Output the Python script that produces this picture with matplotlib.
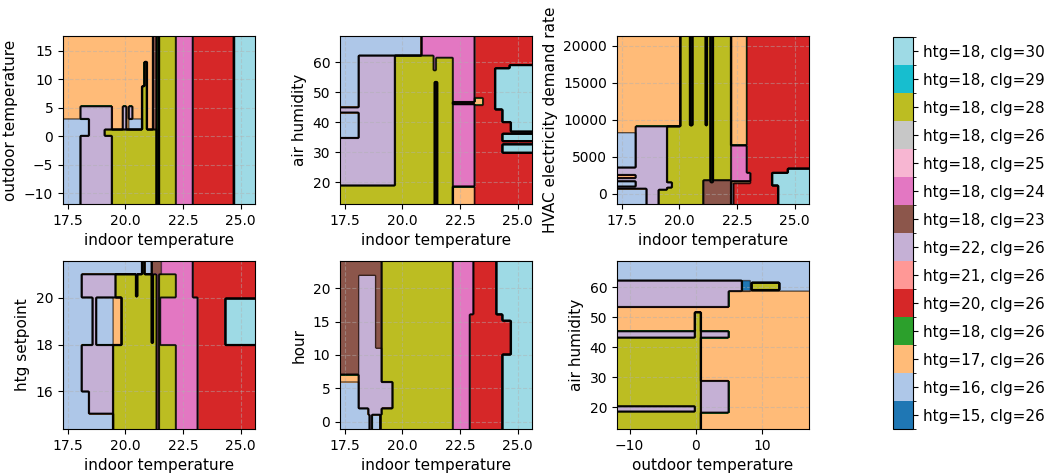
import numpy as np
import matplotlib as mpl
import matplotlib.pyplot as plt
from matplotlib.colors import BoundaryNorm

class_labels = ['htg=15, clg=26', 'htg=16, clg=26', 'htg=17, clg=26', 'htg=18, clg=26',
                'htg=20, clg=26', 'htg=21, clg=26', 'htg=22, clg=26', 'htg=18, clg=23',
                'htg=18, clg=24', 'htg=18, clg=25', 'htg=18, clg=26', 'htg=18, clg=28',
                'htg=18, clg=29', 'htg=18, clg=30']

# (class, x0, x1, y0, y1) -- later boxes are painted over earlier ones
regions_1 = [
    (2, 17, 26, -20, 20),
    (1, 17, 18.08, -20, 3.0),
    (6, 18.08, 19.41, -20, 5.2),
    (1, 18.08, 18.44, 0.05, 3.0),
    (11, 19.41, 21.38, -20, 1.1),
    (11, 19.12, 19.41, 0.05, 1.1),
    (6, 19.87, 20.03, 1.1, 5.2),
    (1, 20.13, 20.71, 1.1, 3.0),
    (6, 20.13, 20.30, 3.0, 5.2),
    (11, 20.71, 20.85, 1.1, 8.7),
    (11, 20.85, 20.95, 1.1, 13.1),
    (7, 21.22, 21.38, 1.1, 20),
    (2, 21.38, 21.47, -20, 20),
    (11, 21.47, 22.2, -20, 20),
    (8, 22.2, 22.95, -20, 20),
    (4, 22.95, 24.68, -20, 20),
    (13, 24.68, 26, -20, 20),
]

regions_2 = [
    (4, 17, 26, 0, 80),
    (1, 17, 20.84, 62.3, 80),
    (1, 17, 18.11, 44.9, 80),
    (6, 17, 18.11, 18.9, 44.9),
    (1, 17, 18.11, 34.8, 43.2),
    (6, 18.11, 19.7, 18.9, 62.3),
    (11, 17, 19.7, 0, 18.9),
    (11, 19.7, 21.4, 0, 62.2),
    (11, 21.4, 22.2, 0, 61.7),
    (8, 20.84, 23.15, 62.2, 80),
    (8, 21.4, 23.15, 61.7, 62.2),
    (8, 22.2, 23.15, 18.5, 61.7),
    (8, 21.33, 21.46, 57.2, 62.2),
    (2, 22.2, 23.15, 0, 18.5),
    (2, 22.2, 23.5, 46.1, 46.9),
    (2, 23.15, 23.5, 45.8, 48.3),
    (2, 21.41, 21.49, 0, 53.3),
    (13, 24.02, 26, 44.3, 58.0),
    (13, 24.35, 26, 40, 44.3),
    (13, 24.7, 26, 37.0, 40),
    (13, 24.65, 26, 58.0, 59.1),
    (13, 24.35, 26, 33.7, 36.2),
    (13, 24.35, 26, 29.8, 32.6),
]

regions_3 = [
    (4, 17, 26, -5000, 25000),
    (11, 19.1, 22.22, -5000, 25000),
    (2, 17, 20.05, 9100, 25000),
    (2, 17, 18.1, 8300, 9100),
    (1, 17, 18.1, 3500, 8300),
    (6, 18.1, 19.45, 600, 9100),
    (6, 17, 18.1, 600, 3500),
    (6, 19.45, 19.7, 800, 1600),
    (6, 18.6, 19.1, -5000, 600),
    (1, 17, 18.6, -5000, 750),
    (2, 17, 18.1, 2160, 2560),
    (1, 17, 18.1, 990, 1660),
    (7, 21.06, 22.22, -5000, 1900),
    (2, 20.45, 20.55, 9300, 25000),
    (2, 21.12, 21.2, 9300, 25000),
    (2, 21.38, 21.46, 1500, 25000),
    (2, 22.22, 22.95, 6600, 25000),
    (8, 22.22, 22.95, 2800, 6600),
    (8, 22.22, 23.1, 1700, 2800),
    (2, 22.22, 23.1, 1400, 1700),
    (1, 22.22, 22.35, -5000, 1400),
    (13, 24.03, 26, 1200, 2800),
    (13, 24.27, 26, -5000, 2800),
    (13, 24.7, 26, 2800, 3450),
]

regions_4 = [
    (4, 17, 26, 10, 25),
    (1, 17, 19.45, 10, 25),
    (11, 19.45, 22.19, 10, 21.0),
    (6, 18.1, 19.57, 20.0, 21.0),
    (6, 18.6, 18.75, 18.0, 20.0),
    (1, 18.75, 19.45, 18.0, 20.0),
    (2, 19.45, 19.83, 18.0, 20.0),
    (6, 18.1, 19.45, 16.0, 18.0),
    (6, 18.43, 19.45, 15.07, 16.0),
    (8, 21.5, 22.19, 18.0, 20.0),
    (8, 22.19, 22.94, 10, 25),
    (8, 22.94, 23.16, 10, 20.0),
    (8, 21.57, 22.19, 21.0, 25),
    (7, 21.13, 21.57, 21.0, 25),
    (1, 17, 21.13, 21.0, 25),
    (11, 20.75, 20.83, 21.0, 25),
    (2, 20.44, 20.52, 20.05, 21.0),
    (2, 21.12, 21.19, 18.05, 21.0),
    (7, 21.38, 21.44, 10, 21.0),
    (13, 24.32, 26, 18.0, 19.96),
]

regions_5 = [
    (11, 17, 26, -5, 30),
    (7, 17, 19.11, 7.0, 30),
    (1, 17, 18.1, -5, 6.0),
    (2, 17, 18.43, 6.0, 7.0),
    (6, 18.1, 18.82, 2.0, 21.86),
    (6, 18.82, 19.11, 6.0, 10.95),
    (6, 18.1, 19.6, 2.0, 6.0),
    (1, 18.1, 18.53, -5, 2.0),
    (6, 18.53, 19.1, 1.1, 2.0),
    (1, 18.53, 18.6, -5, 1.1),
    (6, 18.6, 18.7, -5, 1.1),
    (1, 18.7, 19.03, -5, 1.1),
    (13, 24.07, 26, -5, 30),
    (8, 22.19, 23.09, -5, 30),
    (4, 23.09, 24.07, 16.1, 30),
    (4, 22.94, 24.32, -5, 16.1),
    (4, 24.32, 24.7, 10.05, 15.07),
]

regions_6 = [
    (2, -20, 30, 0, 80),
    (1, -20, 30, 62.4, 80),
    (1, 6.9, 30, 58.9, 80),
    (6, -20, 4.96, 53.3, 62.4),
    (6, 4.96, 6.9, 58.9, 62.4),
    (0, 6.9, 8.24, 58.9, 62.2),
    (11, 8.49, 12.67, 59.1, 61.7),
    (6, -20, 4.96, 43.2, 45.5),
    (11, -20, 0.83, 0, 43.2),
    (11, -0.2, 0.83, 43.2, 51.6),
    (6, -20, -0.08, 18.5, 20.3),
    (6, 0.83, 4.96, 18.3, 28.9),
]

panels = [
    (regions_1, 'indoor temperature', 'outdoor temperature', (17.3, 25.62), (-11.9, 17.58)),
    (regions_2, 'indoor temperature', 'air humidity', (17.3, 25.62), (12.7, 68.8)),
    (regions_3, 'indoor temperature', 'HVAC electricity demand rate', (17.3, 25.62), (-1350, 21300)),
    (regions_4, 'indoor temperature', 'htg setpoint', (17.3, 25.62), (14.4, 21.56)),
    (regions_5, 'indoor temperature', 'hour', (17.3, 25.62), (-1.1, 24.07)),
    (regions_6, 'outdoor temperature', 'air humidity', (-11.9, 17.05), (12.7, 68.8)),
]

cmap = mpl.colormaps['tab20'].resampled(14)

fig = plt.figure(figsize=(10.48, 4.74), dpi=100)
lefts = [0.0601, 0.3244, 0.5887]
bottoms = [0.5696, 0.0949]
n = 160

for k, (regions, xlab, ylab, xlim, ylim) in enumerate(panels):
    ax = fig.add_axes([lefts[k % 3], bottoms[k // 3], 0.1832, 0.3544])
    xx, yy = np.meshgrid(np.linspace(*xlim, n), np.linspace(*ylim, n))
    z = np.zeros_like(xx)
    for c, x0, x1, y0, y1 in regions:
        z[(xx >= x0) & (xx < x1) & (yy >= y0) & (yy < y1)] = c
    ax.contourf(xx, yy, z, levels=np.arange(15) - 0.5, cmap=cmap)
    ax.contour(xx, yy, z, levels=np.arange(13) + 0.5, colors='k', linewidths=1, alpha=0.6)
    ax.set_xlim(xlim)
    ax.set_ylim(ylim)
    ax.grid(True, linestyle='--', color='#b0b0b0', alpha=0.45, linewidth=0.8)
    ax.set_xlabel(xlab, fontsize=11)
    ax.set_ylabel(ylab, fontsize=11)
    ax.tick_params(labelsize=10)

cax = fig.add_axes([0.8521, 0.0949, 0.0191, 0.827])
sm = mpl.cm.ScalarMappable(norm=BoundaryNorm(np.arange(15) - 0.5, 14), cmap=cmap)
cbar = fig.colorbar(sm, cax=cax, ticks=np.arange(14))
cbar.set_ticklabels(class_labels)
cbar.ax.tick_params(labelsize=11)

fig.savefig('out.png', dpi=100)
